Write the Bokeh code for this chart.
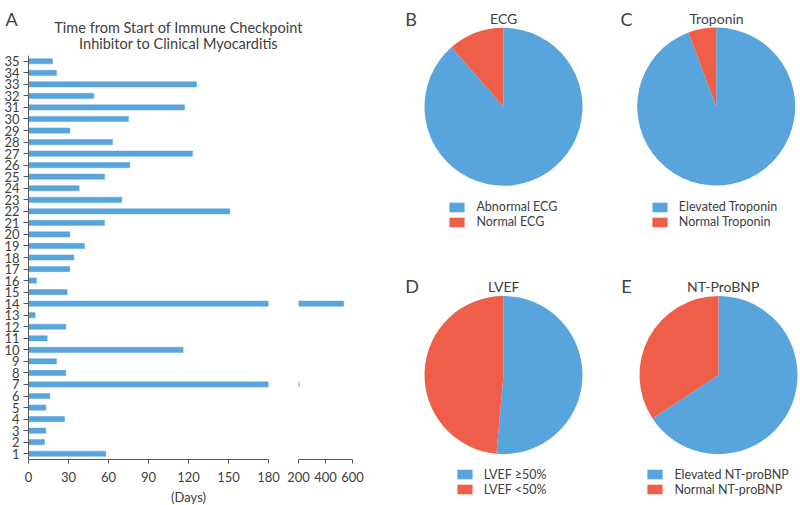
import math
from bokeh.plotting import figure
from bokeh.models import Range1d, FixedTicker, ColumnDataSource, Legend, LegendItem
from bokeh.layouts import row, column
from bokeh.embed import file_html
from bokeh.resources import INLINE
from bokeh.core.properties import value

# ---------------- data ----------------
patients = list(range(1, 36))
days = [58, 12, 13, 27, 13, 16, 205, 28, 21, 116, 14, 28, 5, 535, 29, 6, 31, 34,
        42, 31, 57, 151, 70, 38, 57, 76, 123, 63, 31, 75, 117, 49, 126, 21, 18]
ticks_low = [0, 30, 60, 90, 120, 150, 180]
ticks_high = [200, 400, 600]
bar_title = ["Time from Start of Immune Checkpoint", "Inhibitor to Clinical Myocarditis"]
x_label = "(Days)"

pie_titles = ["ECG", "Troponin", "LVEF", "NT-ProBNP"]
pie_letters = ["B", "C", "D", "E"]
pos_labels = ["Abnormal ECG", "Elevated Troponin", "LVEF \u226550%", "Elevated NT-proBNP"]
neg_labels = ["Normal ECG", "Normal Troponin", "LVEF <50%", "Normal NT-proBNP"]
pos_counts = [31, 33, 18, 23]
neg_counts = [4, 2, 17, 12]

# ---------------- style ----------------
FONT = "Lato"
TXT = "#404040"
AX = "#555555"
BLUE = "#58A4DC"
RED = "#EE5E48"


def base(width, height, **kw):
    p = figure(width=width, height=height, output_backend="svg", toolbar_location=None, **kw)
    p.outline_line_color = None
    p.grid.visible = False
    return p


LW = 375  # width of the left panel

# ---------------- header (title + A) ----------------
HH = 54
hdr = base(LW, HH, x_range=Range1d(0, LW), y_range=Range1d(0, HH),
           x_axis_location=None, y_axis_location=None, min_border=0)
hdr.text(x=[178, 178], y=[HH - 26.7, HH - 43.0], text=bar_title, text_align="center",
         text_baseline="alphabetic", text_font=value(FONT), text_font_size="14.5px", text_color=TXT)
hdr.text(x=[5], y=[HH - 18.3], text=["A"], text_align="left", text_baseline="alphabetic",
         text_font=value(FONT), text_font_size="18px", text_color=TXT)

# ---------------- bars with broken axis ----------------
yr = Range1d(0.5, 35.5)
src = ColumnDataSource(dict(patient=patients, days=days))
brk = ticks_high[0]
hi = [(pt, d) for pt, d in zip(patients, days) if d > brk]
src_hi = ColumnDataSource(dict(patient=[h[0] for h in hi], days=[h[1] for h in hi]))


def bar_fig(width, xr, ticks, lb, rb, show_y, source, left):
    p = base(width, 433, x_range=xr, y_range=yr, min_border_left=lb, min_border_right=rb,
             min_border_top=1, min_border_bottom=28,
             y_axis_location="left" if show_y else None)
    p.hbar(y="patient", left=left, right="days", height=0.45, source=source,
           fill_color=BLUE, line_color=BLUE, line_width=0.5)
    ax = p.xaxis[0]
    ax.ticker = FixedTicker(ticks=ticks)
    ax.major_tick_in = 0
    ax.major_tick_out = 4
    ax.minor_tick_in = 0
    ax.minor_tick_out = 0
    ax.axis_line_color = AX
    ax.major_tick_line_color = AX
    ax.major_label_text_font = FONT
    ax.major_label_text_font_size = "13px"
    ax.major_label_text_color = TXT
    ax.major_label_standoff = 8
    if show_y:
        ya = p.yaxis[0]
        ya.ticker = FixedTicker(ticks=patients)
        ya.major_tick_in = 0
        ya.major_tick_out = 5
        ya.minor_tick_in = 0
        ya.minor_tick_out = 0
        ya.axis_line_color = AX
        ya.major_tick_line_color = AX
        ya.major_label_text_font = FONT
        ya.major_label_text_font_size = "13px"
        ya.major_label_text_color = TXT
        ya.major_label_standoff = 4
    return p


barL = bar_fig(283, Range1d(0, 180), ticks_low, 28, 15, True, src, 0)
barR = bar_fig(LW - 283, Range1d(200, 600), ticks_high, 15, LW - 283 - 15 - 54, False, src_hi, brk)

# ---------------- footer (Days) ----------------
FH = 18
ftr = base(LW, FH, x_range=Range1d(0, LW), y_range=Range1d(0, FH),
           x_axis_location=None, y_axis_location=None, min_border=0)
ftr.text(x=[188], y=[FH / 2], text=[x_label], text_align="center", text_baseline="middle",
         text_font=value(FONT), text_font_size="13px", text_color=TXT)

# ---------------- pies ----------------
PW, PH = 800 - LW, 505
pf = base(PW, PH, x_range=Range1d(0, PW), y_range=Range1d(0, PH),
          x_axis_location=None, y_axis_location=None, min_border=0)

centers = [(128, 398.7), (340.7, 399), (128, 130.5), (343, 130.5)]
title_pos = [(128.2, 486.7), (341, 486.7), (128.2, 219.3), (347.7, 219.3)]
letter_pos = [(29.7, 486.7), (245, 486.7), (29.7, 220), (245.7, 219.3)]
legend_pos = [(72.4, 275.8), (274.8, 275.8), (79.8, 8.2), (270.4, 8.2)]
R = 79

for i in range(4):
    total = pos_counts[i] + neg_counts[i]
    a_neg = 2 * math.pi * neg_counts[i] / total
    start0 = math.pi / 2
    cx, cy = centers[i]
    s = ColumnDataSource(dict(
        x=[cx, cx], y=[cy, cy],
        start=[start0 + a_neg, start0],
        end=[start0 + 2 * math.pi, start0 + a_neg],
        color=[BLUE, RED],
    ))
    r = pf.wedge(x="x", y="y", radius=R, start_angle="start", end_angle="end",
                 fill_color="color", line_color=None, source=s)
    leg = Legend(items=[LegendItem(label=pos_labels[i], renderers=[r], index=0),
                        LegendItem(label=neg_labels[i], renderers=[r], index=1)],
                 location=legend_pos[i], orientation="vertical",
                 glyph_width=19, glyph_height=12, label_height=15, label_standoff=10,
                 spacing=0, padding=0, margin=0, border_line_color=None,
                 background_fill_alpha=0,
                 label_text_font=FONT, label_text_font_size="12.5px", label_text_color=TXT)
    pf.add_layout(leg)
    tx, ty = title_pos[i]
    pf.text(x=[tx], y=[ty], text=[pie_titles[i]], text_align="center", text_baseline="alphabetic",
            text_font=value(FONT), text_font_size="14px", text_color=TXT)
    lx, ly = letter_pos[i]
    pf.text(x=[lx], y=[ly], text=[pie_letters[i]], text_align="left", text_baseline="alphabetic",
            text_font=value(FONT), text_font_size="18px", text_color=TXT)

layout = row(column(hdr, row(barL, barR), ftr), pf)
open("out.html", "w").write(file_html(layout, INLINE))
